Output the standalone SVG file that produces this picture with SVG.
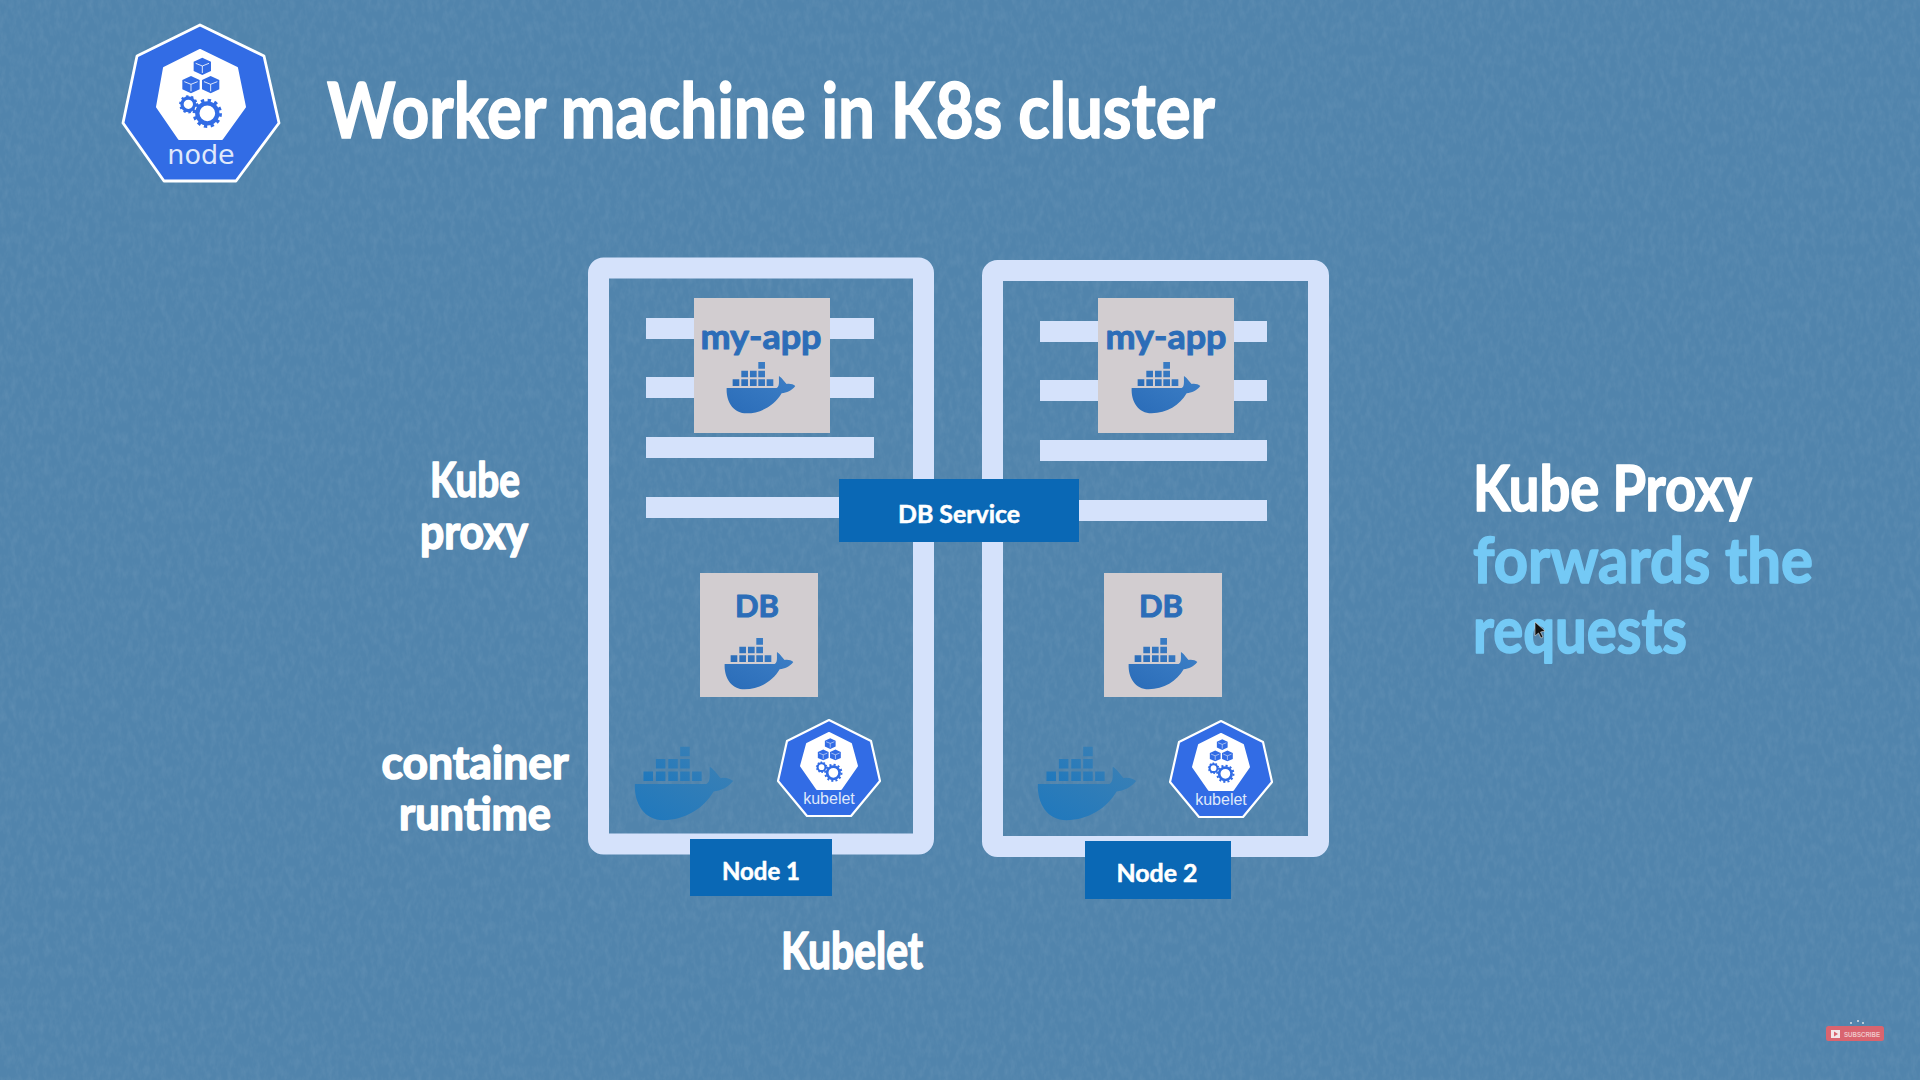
<svg xmlns="http://www.w3.org/2000/svg" width="1920" height="1080" viewBox="0 0 1920 1080">
<style>
.hand{font-family:"Lato","Noto Sans",sans-serif;font-weight:700;fill:#fff;stroke:#fff;stroke-width:1.6;stroke-linejoin:round;text-anchor:middle}
.left{text-anchor:start}
.sky{fill:#74c9f5;stroke:#74c9f5}
.app{font-family:"Lato","Noto Sans",sans-serif;font-weight:700;fill:#2c6db8;stroke:#2c6db8;stroke-width:1;stroke-linejoin:round;text-anchor:middle}
.lab{font-family:"Lato","Noto Sans",sans-serif;font-weight:700;fill:#fff;stroke:#fff;stroke-width:.5;text-anchor:middle}
.frame{fill:none;stroke:#d5e2fb;stroke-width:21}
.bar{fill:#d5e2fb}
.box{fill:#d2cdd0}
.tag{fill:#0a68b5}
</style>
<defs>
<filter id="grain" x="0" y="0" width="100%" height="100%">
<feTurbulence type="fractalNoise" baseFrequency="0.18 0.09" numOctaves="3" seed="7"/>
<feColorMatrix type="matrix" values="0 0 0 0 0.26  0 0 0 0 0.42  0 0 0 0 0.58  0.9 0 0 0 -0.34"/>
</filter>
<linearGradient id="whaleG" x1="0" y1="1" x2="1" y2="0"><stop offset="0" stop-color="#2a6cb8"/><stop offset="1" stop-color="#3d7fc6"/></linearGradient>
<linearGradient id="whaleBig" x1="0" y1="1" x2="1" y2="0"><stop offset="0" stop-color="#1f78bd"/><stop offset="1" stop-color="#3a80b5"/></linearGradient>
<g id="whaleShape">
<path d="M440 414H590C600 410 596 390 597 378C608 385 615 398 620 402C630 400 640 403 646 408C635 422 620 428 605 430C585 465 545 490 500 490C460 490 438 455 440 414Z"/>
<path d="M458 388h20v20h-20zM484 388h20v20h-20zM510 388h20v20h-20zM535 388h20v20h-20zM560 388h20v20h-20zM484 362h20v20h-20zM510 362h20v20h-20zM535 362h20v20h-20zM535 336h20v20h-20z"/>
</g>
<g id="gears">
<g fill="#326ce5">
<path d="M307 173L333 185V213L307 225L281 213V185Z"/>
<path d="M273 228L299 240V268L273 280L247 268V240Z"/>
<path d="M332 228L358 240V268L332 280L306 268V240Z"/>
</g>
<g fill="none" stroke="#fff" stroke-width="2.5">
<path d="M287 190L307 198L327 190M307 198V219"/>
<path d="M253 245L273 253L293 245M273 253V274"/>
<path d="M312 245L332 253L352 245M332 253V274"/>
</g>
<g fill="none" stroke="#326ce5">
<circle cx="265" cy="313" r="19" stroke-width="10"/>
<circle cx="265" cy="313" r="24" stroke-width="7" stroke-dasharray="7 8.1"/>
<circle cx="322" cy="340" r="32" stroke-width="16" stroke="#fff"/>
<circle cx="322" cy="340" r="30" stroke-width="13"/>
<circle cx="322" cy="340" r="39" stroke-width="10" stroke-dasharray="10 10.4"/>
</g>
</g>
<g id="kubelet">
<polygon points="829,720 871,741 880,781 851,816 807,816 778,781 787,741" fill="#326ce5" stroke="#fff" stroke-width="2.2" stroke-linejoin="round"/>
<polygon points="829,733 851,744 857,766 841,789 817,789 801,766 807,744" fill="#fff" stroke="#fff" stroke-width="2" stroke-linejoin="round"/>
<use href="#gears" transform="translate(766.7 702.4) scale(.207)"/>
<text x="829" y="804" text-anchor="middle" font-family="Liberation Sans, Arial, sans-serif" font-size="16" fill="#dfe8fb">kubelet</text>
</g>
</defs>

<rect width="1920" height="1080" fill="#5184ac"/>
<rect width="1920" height="1080" filter="url(#grain)" opacity=".4"/>

<g id="node-icon">
<polygon points="200,25 264,56 279,123 236,181 164,181 123,123 137,56" fill="#326ce5" stroke="#fff" stroke-width="2.8" stroke-linejoin="round"/>
<polygon points="200,50 237,68 245,107 222,139 179,139 157,107 164,68" fill="#fff" stroke="#fff" stroke-width="2" stroke-linejoin="round"/>
<use href="#gears" transform="translate(100 0) scale(.3333)"/>
<text x="201" y="164" text-anchor="middle" font-family="DejaVu Sans, sans-serif" font-size="27" fill="#dfe8fb">node</text>
</g>
<text id="title" class="hand left" x="327" y="138" font-size="76" stroke-width="3" textLength="888" lengthAdjust="spacingAndGlyphs">Worker machine in K8s cluster</text>

<g id="node-1">
<rect class="frame" x="598.5" y="268" width="325" height="576" rx="5"/>
<rect class="bar" x="646" y="318" width="228" height="21"/>
<rect class="bar" x="646" y="377" width="228" height="21"/>
<rect class="bar" x="646" y="437" width="228" height="21"/>
<rect class="bar" x="646" y="497" width="228" height="21"/>
<g id="n1-myapp">
<rect class="box" x="694" y="298" width="136" height="135"/>
<text class="app" x="761" y="349" font-size="34" textLength="121" lengthAdjust="spacingAndGlyphs">my-app</text>
<use href="#whaleShape" fill="url(#whaleG)" transform="translate(580 250) scale(.3333)"/>
</g>
<g id="n1-db">
<rect class="box" x="700" y="573" width="118" height="124"/>
<text class="app" x="757" y="617" font-size="30" textLength="44" lengthAdjust="spacingAndGlyphs">DB</text>
<use href="#whaleShape" fill="url(#whaleG)" transform="translate(578 526) scale(.3333)"/>
</g>
<use id="n1-runtime" href="#whaleShape" fill="url(#whaleBig)" transform="translate(425 586.4) scale(.477)"/>
<use id="n1-kubelet" href="#kubelet"/>
<g id="n1-label">
<rect class="tag" x="690" y="839" width="142" height="57"/>
<text class="lab" x="761" y="880" font-size="24" textLength="78" lengthAdjust="spacingAndGlyphs">Node 1</text>
</g>
</g>

<g id="node-2">
<rect class="frame" x="992.5" y="270.5" width="326" height="576" rx="5"/>
<rect class="bar" x="1040" y="321" width="227" height="21"/>
<rect class="bar" x="1040" y="380" width="227" height="21"/>
<rect class="bar" x="1040" y="440" width="227" height="21"/>
<rect class="bar" x="1040" y="500" width="227" height="21"/>
<g id="n2-myapp">
<rect class="box" x="1098" y="298" width="136" height="135"/>
<text class="app" x="1166" y="349" font-size="34" textLength="121" lengthAdjust="spacingAndGlyphs">my-app</text>
<use href="#whaleShape" fill="url(#whaleG)" transform="translate(985 250) scale(.3333)"/>
</g>
<g id="n2-db">
<rect class="box" x="1104" y="573" width="118" height="124"/>
<text class="app" x="1161" y="617" font-size="30" textLength="44" lengthAdjust="spacingAndGlyphs">DB</text>
<use href="#whaleShape" fill="url(#whaleG)" transform="translate(982 526) scale(.3333)"/>
</g>
<use id="n2-runtime" href="#whaleShape" fill="url(#whaleBig)" transform="translate(828 586.4) scale(.477)"/>
<use id="n2-kubelet" href="#kubelet" transform="translate(392 1)"/>
<g id="n2-label">
<rect class="tag" x="1085" y="841" width="146" height="58"/>
<text class="lab" x="1157" y="882" font-size="24" textLength="81" lengthAdjust="spacingAndGlyphs">Node 2</text>
</g>
</g>

<g id="db-service">
<rect class="tag" x="839" y="479" width="240" height="63"/>
<text class="lab" x="959" y="523" font-size="24" textLength="122" lengthAdjust="spacingAndGlyphs">DB Service</text>
</g>

<g id="captions">
<text class="hand" x="475" y="497" font-size="48" textLength="90" lengthAdjust="spacingAndGlyphs">Kube</text>
<text class="hand" x="474" y="549" font-size="48" textLength="108" lengthAdjust="spacingAndGlyphs">proxy</text>
<text class="hand" x="475" y="779" font-size="46" textLength="187" lengthAdjust="spacingAndGlyphs">container</text>
<text class="hand" x="475" y="830" font-size="46" textLength="152" lengthAdjust="spacingAndGlyphs">runtime</text>
<text class="hand" x="852" y="969" font-size="52" textLength="142" lengthAdjust="spacingAndGlyphs">Kubelet</text>
<text class="hand left" x="1473" y="511" font-size="64" stroke-width="2" textLength="279" lengthAdjust="spacingAndGlyphs">Kube Proxy</text>
<text class="hand left sky" x="1473" y="583" font-size="64" stroke-width="2" textLength="340" lengthAdjust="spacingAndGlyphs">forwards the</text>
<text class="hand left sky" x="1473" y="653" font-size="64" stroke-width="2" textLength="214" lengthAdjust="spacingAndGlyphs">requests</text>
</g>

<path id="cursor" d="M1535 622L1535 636L1538.5 633L1541 638L1543 637L1540.5 632L1545 631Z" fill="#111" stroke="#ddd" stroke-width=".6"/>

<g id="subscribe">
<rect x="1826" y="1026" width="58" height="15" rx="2.5" fill="#d9646f"/>
<rect x="1831" y="1030" width="9" height="8" fill="#f3e6e8"/>
<path d="M1834 1031.5L1838 1034L1834 1036.5Z" fill="#d9646f"/>
<text x="1844" y="1036.5" font-family="Liberation Sans, Arial, sans-serif" font-size="7" font-weight="700" fill="#efc4c8" textLength="36" lengthAdjust="spacingAndGlyphs">SUBSCRIBE</text>
<g fill="#b9cbd9"><rect x="1850" y="1022" width="2" height="2"/><rect x="1857" y="1020" width="2" height="2"/><rect x="1862" y="1022" width="2" height="2"/></g>
</g>
</svg>
